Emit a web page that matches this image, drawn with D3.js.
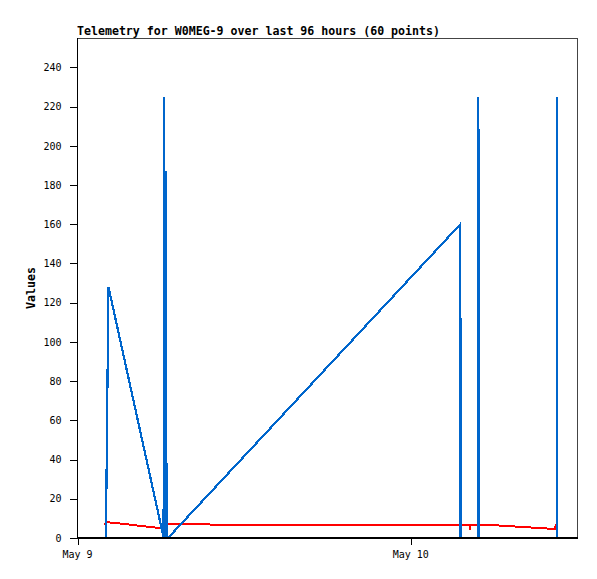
<!DOCTYPE html>
<html>
<head>
<meta charset="utf-8">
<script src="https://cdn.jsdelivr.net/npm/d3@7"></script>
<style>
  html, body { margin: 0; padding: 0; background: #fff; }
  svg { display: block; }
  text { font-family: "DejaVu Sans Mono", "Liberation Mono", monospace; fill: #000; }
</style>
</head>
<body>
<svg id="chart" width="597" height="579"></svg>
<script>
// ---- data ----
const titleText = "Telemetry for W0MEG-9 over last 96 hours (60 points)";
const yLabel = "Values";
const xDomain = ["2024-05-09 00:00", "2024-05-10 12:00"];
const yDomain = [0, 255];
const yTicks = [0, 20, 40, 60, 80, 100, 120, 140, 160, 180, 200, 220, 240];

const blueTimes = [
  "2024-05-09 02:06", "2024-05-09 02:07", "2024-05-09 02:11", "2024-05-09 02:16",
  "2024-05-09 06:09", "2024-05-09 06:14", "2024-05-09 06:17", "2024-05-09 06:18",
  "2024-05-09 06:22", "2024-05-09 06:23", "2024-05-09 06:24", "2024-05-09 06:28",
  "2024-05-09 06:29", "2024-05-09 06:33",
  "2024-05-10 03:36", "2024-05-10 03:37",
  "2024-05-10 04:53", "2024-05-10 04:54", "2024-05-10 04:55",
  "2024-05-10 10:32", "2024-05-10 10:33"
];
const blueValues = [
  0, 24, 72, 128,
  3, 0, 225, 0,
  187, 113, 0, 38,
  0, 0,
  160, 0,
  0, 225, 0,
  0, 225
];

const redTimes = [
  "2024-05-09 01:57", "2024-05-09 02:10", "2024-05-09 02:36", "2024-05-09 06:09",
  "2024-05-09 06:16", "2024-05-10 03:35", "2024-05-10 04:15", "2024-05-10 04:18",
  "2024-05-10 04:21", "2024-05-10 05:36", "2024-05-10 10:25", "2024-05-10 10:29"
];
const redValues = [
  6.8, 8.0, 7.8, 4.9,
  6.9, 6.8, 6.8, 4.4,
  6.8, 6.7, 4.6, 7.1
];

// ---- drawing ----
(function () {
const parse = d3.timeParse("%Y-%m-%d %H:%M");
const svg = d3.select("#chart");
const pL = 77, pR = 577, pT = 38, pB = 538;

const x = d3.scaleTime().domain(xDomain.map(parse)).range([pL, pR]);
const y = d3.scaleLinear().domain(yDomain).range([pB, pT]);

const blue = blueTimes.map((t, i) => ({t: parse(t), v: blueValues[i]}));
const red = redTimes.map((t, i) => ({t: parse(t), v: redValues[i]}));

// frame (top/right)
svg.append("rect")
  .attr("x", pL + 0.5).attr("y", pT + 0.5)
  .attr("width", pR - pL).attr("height", pB - pT)
  .attr("fill", "none").attr("stroke", "#444").attr("stroke-width", 1)
  .attr("shape-rendering", "crispEdges");

const line = d3.line().x(d => x(d.t)).y(d => y(d.v));

svg.append("path").datum(red)
  .attr("d", line).attr("fill", "none")
  .attr("stroke", "#ff0000").attr("stroke-width", 2)
  .attr("shape-rendering", "crispEdges");

svg.append("path").datum(blue)
  .attr("d", line).attr("fill", "none")
  .attr("stroke", "#0066cc").attr("stroke-width", 2.2)
  .attr("shape-rendering", "crispEdges");

// y axis
const yAxis = svg.append("g")
  .attr("transform", `translate(${pL + 0.5},0)`)
  .call(d3.axisLeft(y).tickValues(yTicks).tickSize(8).tickPadding(8));
yAxis.select(".domain").attr("stroke", "#000").attr("d", `M0,${pT}V${pB}`);
yAxis.selectAll("line").attr("stroke", "#000").attr("shape-rendering", "crispEdges");
yAxis.selectAll("text").attr("font-size", "10px")
  .attr("font-family", "DejaVu Sans Mono, monospace").attr("fill", "#000");

// x axis
const xAxis = svg.append("g")
  .attr("transform", `translate(0,${pB})`)
  .call(d3.axisBottom(x).ticks(d3.timeDay.every(1))
        .tickFormat(d3.timeFormat("%b %-d")).tickSize(7).tickPadding(6));
xAxis.select(".domain").remove();
xAxis.selectAll("line").attr("stroke", "#000").attr("shape-rendering", "crispEdges")
  .attr("transform", "translate(0.5,0)");
xAxis.selectAll("text").attr("font-size", "10px")
  .attr("font-family", "DejaVu Sans Mono, monospace").attr("fill", "#000");

// bottom baseline (thick)
svg.append("line")
  .attr("x1", pL).attr("x2", pR + 1)
  .attr("y1", pB).attr("y2", pB)
  .attr("stroke", "#000").attr("stroke-width", 2)
  .attr("shape-rendering", "crispEdges");

// title
svg.append("text")
  .attr("x", pL).attr("y", 35)
  .attr("font-size", "11.6px").attr("font-weight", "bold")
  .text(titleText);

// y label
svg.append("text")
  .attr("transform", `translate(35,${(pT + pB) / 2}) rotate(-90)`)
  .attr("text-anchor", "middle")
  .attr("font-size", "11.6px").attr("font-weight", "bold")
  .text(yLabel);
})();
</script>
</body>
</html>
